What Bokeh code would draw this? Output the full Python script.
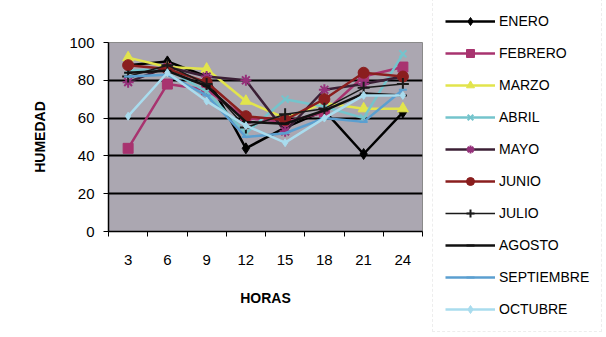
from bokeh.plotting import figure
from bokeh.layouts import row
from bokeh.models import FixedTicker, Legend, LegendItem, Range1d
from bokeh.embed import file_html
from bokeh.resources import INLINE

horas = [3, 6, 9, 12, 15, 18, 21, 24]
hour_labels = ["3", "6", "9", "12", "15", "18", "21", "24"]

enero = [88, 90, 82, 44, 55, 64, 41, 63]
febrero = [44, 78, 75, 60, 58, 63, 82, 87]
marzo = [92, 87, 86, 69, 60, 68, 65, 65]
abril = [85, 86, 74, 52, 70, 66, 60, 94]
mayo = [79, 87, 82, 80, 53, 75, 78, 82]
junio = [88, 86, 79, 61, 59, 70, 84, 82]
julio = [82, 88, 78, 55, 62, 65, 76, 78]
agosto = [84, 85, 77, 58, 57, 64, 73, 72]
septiembre = [82, 83, 72, 50, 52, 60, 58, 75]
octubre = [61, 84, 69, 56, 47, 60, 72, 72]

series = [
    ("ENERO", enero, "#000000", "#000000", "diamond", 11, 2.5),
    ("FEBRERO", febrero, "#a8336f", "#a8336f", "square", 10, 2.5),
    ("MARZO", marzo, "#e2e44c", "#e2e44c", "triangle", 11, 2.5),
    ("ABRIL", abril, "#74c4cc", "#74c4cc", "x", 10, 2.5),
    ("MAYO", mayo, "#3b1f35", "#95307a", "asterisk", 11, 2.5),
    ("JUNIO", junio, "#8a1e1e", "#8a1e1e", "circle", 11, 2.5),
    ("JULIO", julio, "#1a1a1a", "#1a1a1a", "cross", 12, 1.5),
    ("AGOSTO", agosto, "#111111", "#111111", "dash", 8, 2.5),
    ("SEPTIEMBRE", septiembre, "#5b9fd0", "#5b9fd0", "dash", 8, 2.5),
    ("OCTUBRE", octubre, "#a9dcee", "#a9dcee", "diamond", 8, 2.5),
]

FONT = "Liberation Sans"


def draw(fig, name, vals, lc, mc, marker, size, lw):
    r1 = fig.line(horas, vals, line_color=lc, line_width=lw)
    if marker in ("x", "asterisk", "cross", "dash"):
        r2 = fig.scatter(horas, vals, marker=marker, size=size, line_color=mc,
                         line_width=2, fill_color=mc)
    else:
        r2 = fig.scatter(horas, vals, marker=marker, size=size, line_color=mc,
                         fill_color=mc)
    return r1, r2


p = figure(width=430, height=337, output_backend="svg", toolbar_location=None,
           x_range=Range1d(1.5, 25.5), y_range=Range1d(0, 100),
           min_border_left=108, min_border_top=42, min_border_bottom=106,
           min_border_right=8)
p.frame_align = False

p.background_fill_color = "#aba7b1"
p.border_fill_color = "white"
p.outline_line_color = "#8a8a8a"
p.outline_line_width = 1

p.xgrid.visible = False
p.ygrid.grid_line_color = "black"
p.ygrid.grid_line_width = 2
p.ygrid.ticker = FixedTicker(ticks=[20, 40, 60, 80])

p.yaxis.ticker = FixedTicker(ticks=[0, 20, 40, 60, 80, 100])
p.yaxis.axis_label = "HUMEDAD"
p.yaxis.major_tick_out = 5
p.yaxis.major_tick_in = 0
p.yaxis.minor_tick_out = 0
p.yaxis.major_label_standoff = 9
p.yaxis.axis_label_standoff = 18

p.xaxis.ticker = FixedTicker(ticks=horas, minor_ticks=[1.5 + 3 * i for i in range(9)])
p.xaxis.major_label_overrides = {h: l for h, l in zip(horas, hour_labels)}
p.xaxis.axis_label = "HORAS"
p.xaxis.major_tick_out = 0
p.xaxis.major_tick_in = 0
p.xaxis.minor_tick_out = 5
p.xaxis.minor_tick_in = 0
p.xaxis.major_label_standoff = 18
p.xaxis.axis_label_standoff = 22

for ax in (p.xaxis, p.yaxis):
    ax.axis_line_color = "black"
    ax.axis_line_width = 1.5
    ax.major_tick_line_color = "black"
    ax.minor_tick_line_color = "black"
    ax.major_label_text_font = FONT
    ax.major_label_text_font_size = "15px"
    ax.major_label_text_color = "black"
    ax.axis_label_text_font = FONT
    ax.axis_label_text_font_size = "14px"
    ax.axis_label_text_font_style = "bold"
    ax.axis_label_text_color = "black"

# legend figure (same glyph styles, data kept out of view)
lf = figure(width=176, height=337, output_backend="svg", toolbar_location=None,
            x_range=Range1d(1000, 1001), y_range=Range1d(1000, 1001),
            min_border=0)
lf.frame_align = False
lf.axis.visible = False
lf.grid.visible = False
lf.outline_line_color = None
lf.background_fill_color = "white"
lf.border_fill_color = "white"

items = []
for s in series:
    draw(p, *s)
    r1, r2 = draw(lf, *s)
    items.append(LegendItem(label=s[0], renderers=[r1, r2]))

legend = Legend(items=items, location=(2, 9), orientation="vertical",
                label_text_font=FONT, label_text_font_size="14px",
                label_text_color="black",
                glyph_width=50, glyph_height=20, spacing=12, padding=8,
                label_standoff=4, margin=0,
                border_line_color="#dcdcdc", border_line_width=1,
                border_line_dash="2 2",
                background_fill_color="white", background_fill_alpha=1)
legend.padding = 12
legend.location = (2, 5)
lf.add_layout(legend, "center")

layout = row(p, lf, spacing=0)
open("out.html", "w").write(file_html(layout, INLINE))
